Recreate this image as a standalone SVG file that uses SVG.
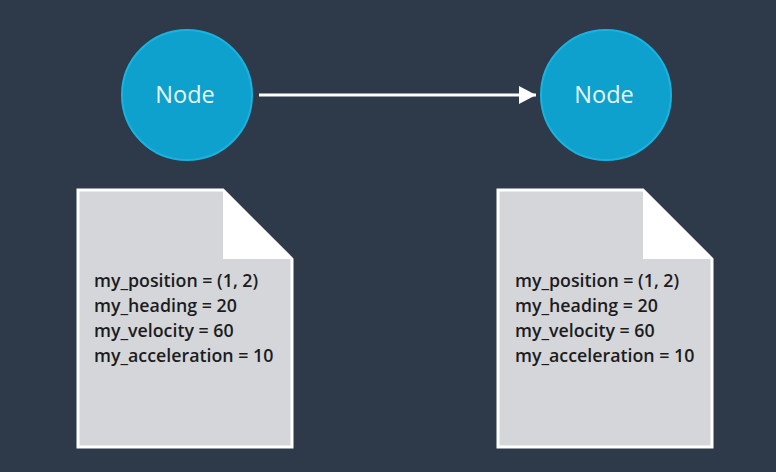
<svg xmlns="http://www.w3.org/2000/svg" width="776" height="472" viewBox="0 0 776 472">
<defs>
<style>
.node circle{fill:#0ea1cd;stroke:#1ab3e0;stroke-width:2}
.node text{font-family:"Open Sans","Liberation Sans",sans-serif;font-size:23.5px;fill:#eaf6fa;text-anchor:middle}
.page{fill:#d5d6da;stroke:#ffffff;stroke-width:3;stroke-linejoin:miter}
.fold{fill:#ffffff}
.doc text{font-family:"Open Sans","Liberation Sans",sans-serif;font-size:17.8px;font-weight:600;fill:#1c1c1e}
.edge{stroke:#ffffff;stroke-width:3;fill:none}
</style>
<marker id="arrowhead" markerWidth="18" markerHeight="18" refX="17" refY="9" orient="auto" markerUnits="userSpaceOnUse" viewBox="0 0 18 18">
<path d="M0,0 L17,9 L0,18 z" fill="#ffffff"/>
</marker>
</defs>
<rect width="776" height="472" fill="#2e3a49"/>
<g id="connectors">
<line class="edge" x1="259" y1="95" x2="536" y2="95" marker-end="url(#arrowhead)"/>
</g>
<g id="node1" class="node">
<circle cx="187" cy="95" r="65"/>
<text x="185" y="103">Node</text>
</g>
<g id="node2" class="node">
<circle cx="606" cy="95" r="65"/>
<text x="604" y="103">Node</text>
</g>
<g id="doc1" class="doc">
<path class="page" d="M78,190 L223,190 L292,259 L292,447 L78,447 Z"/>
<path class="fold" d="M223,190 L223,259 L292,259 Z"/>
<text x="94" y="287">my_position = (1, 2)</text>
<text x="94" y="312">my_heading = 20</text>
<text x="94" y="337">my_velocity = 60</text>
<text x="94" y="362">my_acceleration = 10</text>
</g>
<g id="doc2" class="doc">
<path class="page" d="M498,190 L643,190 L712,259 L712,447 L498,447 Z"/>
<path class="fold" d="M643,190 L643,259 L712,259 Z"/>
<text x="515" y="287">my_position = (1, 2)</text>
<text x="515" y="312">my_heading = 20</text>
<text x="515" y="337">my_velocity = 60</text>
<text x="515" y="362">my_acceleration = 10</text>
</g>
</svg>
